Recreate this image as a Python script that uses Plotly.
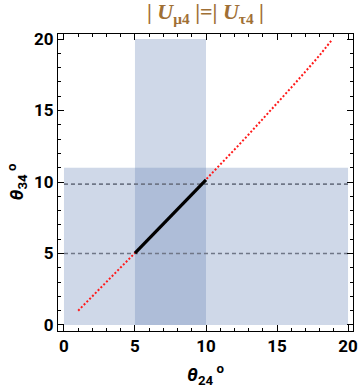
import plotly.graph_objects as go

# Data
curve_theta24 = [1.0, 2.0, 3.0, 4.0, 5.0, 6.0, 7.0, 8.0, 9.0, 10.0, 11.0, 12.0, 13.0, 14.0, 15.0, 16.0, 17.0, 18.0, 18.9]
curve_theta34 = [1.0, 2.0, 3.0, 4.0, 5.02, 6.04, 7.06, 8.09, 9.12, 10.15, 11.2, 12.26, 13.32, 14.4, 15.49, 16.6, 17.72, 18.86, 19.98]
segment_theta24 = [5.0, 6.0, 7.0, 8.0, 9.0, 10.0]
segment_theta34 = [5.02, 6.04, 7.06, 8.09, 9.12, 10.15]
band_theta24 = [5.0, 10.0]      # vertical band
band_theta24_ymax = 20.0
band_theta34 = [0.0, 11.0]      # horizontal band
band_theta34_xrange = [0.0, 20.0]
dashed_levels = [5.0, 9.85]
tick_vals = [0, 5, 10, 15, 20]
tick_text = ["<b>%d</b>" % v for v in tick_vals]

band_color = "rgba(101,130,181,0.31)"

fig = go.Figure()

shapes = [
    dict(type="rect", xref="x", yref="y", layer="below", line=dict(width=0),
         x0=band_theta24[0], x1=band_theta24[1], y0=0, y1=band_theta24_ymax, fillcolor=band_color),
    dict(type="rect", xref="x", yref="y", layer="below", line=dict(width=0),
         x0=band_theta34_xrange[0], x1=band_theta34_xrange[1], y0=band_theta34[0], y1=band_theta34[1], fillcolor=band_color),
]

for lv in dashed_levels:
    fig.add_trace(go.Scatter(x=[band_theta34_xrange[0], band_theta34_xrange[1]], y=[lv, lv], mode="lines",
                             line=dict(color="#6f7686", width=1.6, dash="4px,3px"), hoverinfo="skip"))

fig.add_trace(go.Scatter(x=curve_theta24, y=curve_theta34, mode="lines",
                         line=dict(color="#ff1a1a", width=2, dash="2px,2px"), hoverinfo="skip"))
fig.add_trace(go.Scatter(x=segment_theta24, y=segment_theta34, mode="lines",
                         line=dict(color="black", width=3.2), hoverinfo="skip"))

axis_common = dict(
    showline=True, linecolor="black", linewidth=1, mirror="allticks",
    ticks="inside", ticklen=6, tickwidth=1, tickcolor="black",
    tickmode="array", tickvals=tick_vals, ticktext=tick_text,
    showgrid=False, zeroline=False, automargin=False,
    tickfont=dict(family="Roboto", size=17, color="black", weight=700),
    minor=dict(ticks="inside", tickmode="linear", tick0=0, dtick=1, ticklen=3,
               tickwidth=1, tickcolor="black", showgrid=False),
)

annotations = [
    dict(text="<b>| <i>U</i><sub>μ4</sub> |=| <i>U</i><sub>τ4</sub> |</b>", xref="paper", yref="paper",
         x=0.5, y=1.0, yshift=21, xanchor="center", yanchor="middle", showarrow=False,
         font=dict(family="Liberation Serif", size=22, color="#a06f35")),
    dict(text="<b><i>θ</i><sub>24</sub><sup> o</sup></b>", xref="paper", yref="paper",
         x=0.5, y=0, yshift=-43, xanchor="center", yanchor="middle", showarrow=False,
         font=dict(family="Roboto", size=19, color="black")),
    dict(text="<b><i>θ</i><sub>34</sub><sup> o</sup></b>", xref="paper", yref="paper",
         x=0, xshift=-41, y=0.5, xanchor="center", yanchor="middle", showarrow=False, textangle=-90,
         font=dict(family="Roboto", size=19, color="black")),
]

fig.update_layout(
    width=360, height=387,
    margin=dict(l=58, r=7, t=34, b=56),
    plot_bgcolor="white", paper_bgcolor="white",
    showlegend=False,
    shapes=shapes,
    annotations=annotations,
    xaxis=dict(range=[-0.42, 20.35], **axis_common),
    yaxis=dict(range=[-0.42, 20.35], **axis_common),
)

fig.write_html("out.html", config={"displayModeBar": False},
               post_script="document.body.style.margin='0';document.body.style.padding='0';")
